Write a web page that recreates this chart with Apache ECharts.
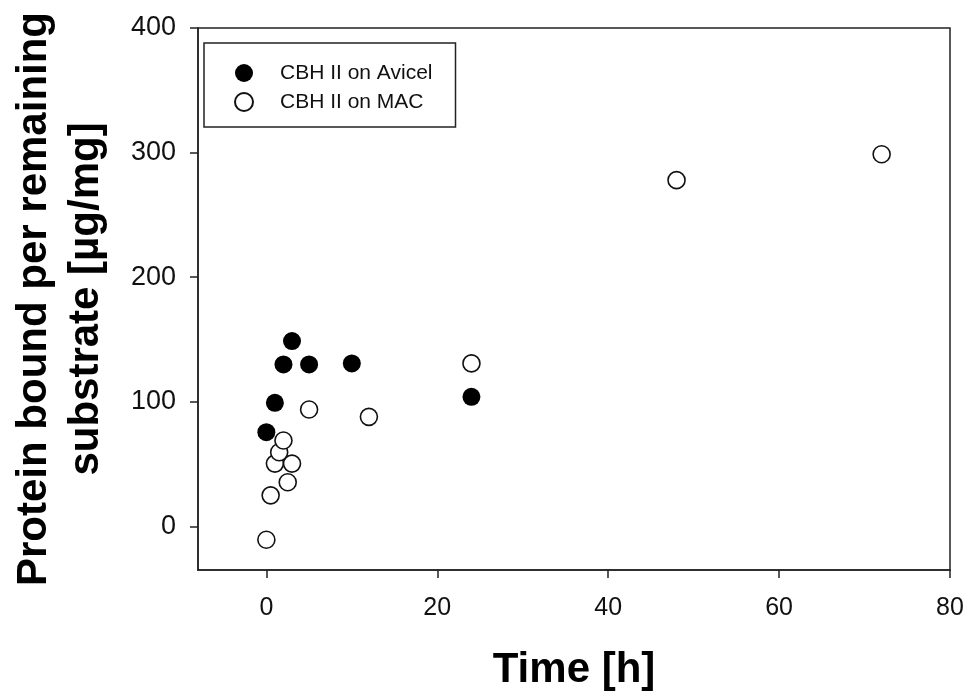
<!DOCTYPE html>
<html>
<head>
<meta charset="utf-8">
<script src="https://cdn.jsdelivr.net/npm/echarts@6/dist/echarts.min.js"></script>
<style>
html,body{margin:0;padding:0;background:#fff;}
#chart{width:970px;height:697px;}
</style>
</head>
<body>
<div id="chart"></div>
<script>
const xTicks = [0, 20, 40, 60, 80];
const yTicks = [0, 100, 200, 300, 400];
const avicelTime = [0, 1, 2, 3, 5, 10, 24];
const avicelBound = [75.6, 99.2, 130, 148.7, 130, 130.8, 104];
const macTime = [0, 0.5, 1, 1.5, 2, 2.5, 3, 5, 12, 24, 48, 72];
const macBound = [-10.7, 24.9, 50.4, 59.5, 68.9, 35.4, 50.4, 93.8, 87.9, 130.8, 277.9, 298.7];
const seriesNames = ['CBH II on Avicel', 'CBH II on MAC'];
const xTitle = 'Time [h]';
const yTitle = 'Protein bound per remaining\nsubstrate [µg/mg]';

const FONT = '"Liberation Sans", Arial, sans-serif';
const chart = echarts.init(document.getElementById('chart'), null, {renderer: 'canvas'});
const pair = (xs, ys) => xs.map((x, i) => [x, ys[i]]);

chart.setOption({
  animation: false,
  backgroundColor: '#fff',
  grid: {
    left: 195, right: 20, top: 28, bottom: 127,
    show: true, borderColor: '#222', borderWidth: 1.5, backgroundColor: 'transparent'
  },
  legend: {
    orient: 'vertical',
    left: 204, top: 43,
    padding: [19, 23, 14, 30],
    itemWidth: 62, itemHeight: 18, itemGap: 7,
    borderColor: '#222', borderWidth: 1.5,
    textStyle: {fontFamily: FONT, fontSize: 21, color: '#111', lineHeight: 22},
    data: seriesNames
  },
  xAxis: {
    type: 'value', min: -8, max: 80,
    splitLine: {show: false},
    axisLine: {show: true, onZero: false, lineStyle: {color: '#222', width: 1.5}},
    axisTick: {show: true, inside: false, length: 8, customValues: xTicks, lineStyle: {color: '#222', width: 1.5}},
    axisLabel: {customValues: xTicks, margin: 26, fontFamily: FONT, fontSize: 25, color: '#111'},
    name: xTitle, nameLocation: 'middle', nameGap: 79,
    nameTextStyle: {fontFamily: FONT, fontSize: 42, fontWeight: 'bold', color: '#000'}
  },
  yAxis: {
    type: 'value', min: -35, max: 400,
    splitLine: {show: false},
    axisLine: {show: true, onZero: false, lineStyle: {color: '#222', width: 1.5}},
    axisTick: {show: true, inside: false, length: 8, customValues: yTicks, lineStyle: {color: '#222', width: 1.5}},
    axisLabel: {customValues: yTicks, margin: 22, fontFamily: FONT, fontSize: 27, color: '#111'},
    name: yTitle, nameLocation: 'middle', nameGap: 86, nameRotate: 90,
    nameTextStyle: {fontFamily: FONT, fontSize: 42, fontWeight: 'bold', color: '#000', lineHeight: 52, align: 'center'}
  },
  series: [
    {
      name: seriesNames[0], type: 'scatter', symbol: 'circle', symbolSize: 18,
      itemStyle: {color: '#000', borderColor: '#000', borderWidth: 0, opacity: 1},
      data: pair(avicelTime, avicelBound)
    },
    {
      name: seriesNames[1], type: 'scatter', symbol: 'circle', symbolSize: 17,
      itemStyle: {color: '#fff', borderColor: '#111', borderWidth: 1.6, opacity: 1},
      data: pair(macTime, macBound)
    }
  ]
});
</script>
</body>
</html>
